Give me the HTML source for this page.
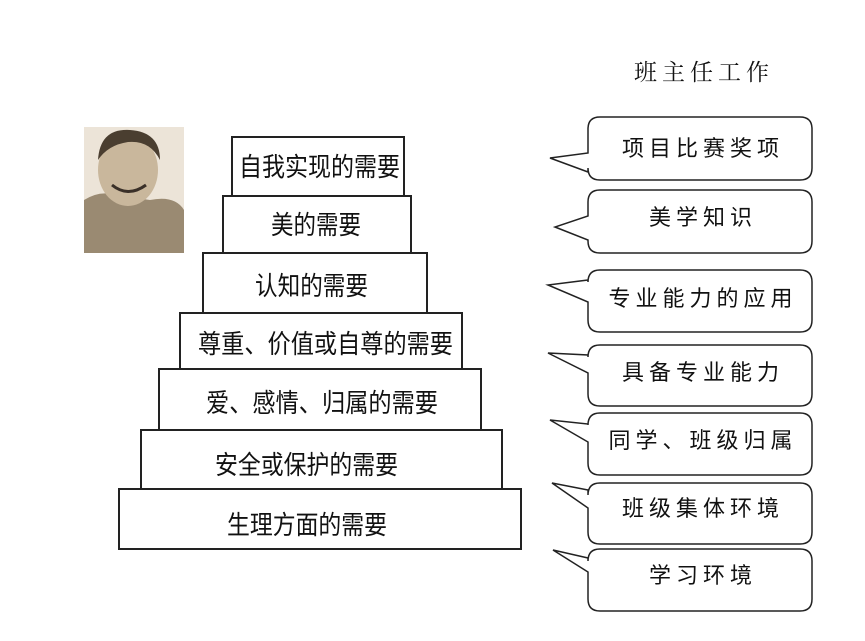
<!DOCTYPE html>
<html><head><meta charset="utf-8"><style>
body{margin:0;background:#fff;width:865px;height:636px;overflow:hidden}
svg text{font-family:"Liberation Sans","Noto Sans CJK SC",sans-serif}
.c{font-family:"Liberation Serif","Noto Serif CJK SC",serif;letter-spacing:5px}
</style></head><body>
<svg width="865" height="636" viewBox="0 0 865 636" xmlns="http://www.w3.org/2000/svg">
<rect x="84" y="127" width="100" height="126" fill="#ece4d8"/>
<path d="M84 200 Q100 190 115 195 L150 200 Q175 195 184 210 L184 253 L84 253Z" fill="#9a8a72"/>
<ellipse cx="128" cy="170" rx="30" ry="36" fill="#c9b79c"/>
<path d="M98 160 Q100 128 130 130 Q160 132 160 160 Q150 140 128 142 Q108 145 98 160Z" fill="#4a3e30"/>
<path d="M112 185 Q128 198 146 185" stroke="#3a3028" stroke-width="3" fill="none"/>
<g fill="#fff" stroke="#222" stroke-width="2">
<rect x="119" y="489" width="402" height="60"/>
<rect x="141" y="430" width="361" height="59"/>
<rect x="159" y="369" width="322" height="61"/>
<rect x="180" y="313" width="282" height="56"/>
<rect x="203" y="253" width="224" height="60"/>
<rect x="223" y="196" width="188" height="57"/>
<rect x="232" y="137" width="172" height="59"/>
</g>
<g font-size="26" fill="#111">
<text x="239" y="176" textLength="161" lengthAdjust="spacingAndGlyphs">自我实现的需要</text>
<text x="271" y="234" textLength="90" lengthAdjust="spacingAndGlyphs">美的需要</text>
<text x="255" y="295" textLength="113" lengthAdjust="spacingAndGlyphs">认知的需要</text>
<text x="198" y="353" textLength="255" lengthAdjust="spacingAndGlyphs">尊重、价值或自尊的需要</text>
<text x="206" y="412" textLength="232" lengthAdjust="spacingAndGlyphs">爱、感情、归属的需要</text>
<text x="215" y="474" textLength="183" lengthAdjust="spacingAndGlyphs">安全或保护的需要</text>
<text x="227" y="534" textLength="160" lengthAdjust="spacingAndGlyphs">生理方面的需要</text>
</g>
<text class="c" x="704" y="80" font-size="23" text-anchor="middle" fill="#111">班主任工作</text>
<g fill="#fff" stroke="#222" stroke-width="1.5">
<path d="M600 117 H800 Q812 117 812 129 V168 Q812 180 800 180 H600 Q588 180 588 168 V172 L550 158 L588 153 V129 Q588 117 600 117Z"/>
<path d="M600 190 H800 Q812 190 812 202 V241 Q812 253 800 253 H600 Q588 253 588 241 V240 L555 227 L588 216 V202 Q588 190 600 190Z"/>
<path d="M600 270 H800 Q812 270 812 282 V320 Q812 332 800 332 H600 Q588 332 588 320 V302 L548 285 L588 280 V282 Q588 270 600 270Z"/>
<path d="M600 345 H800 Q812 345 812 357 V394 Q812 406 800 406 H600 Q588 406 588 394 V373 L548 353 L588 355 V357 Q588 345 600 345Z"/>
<path d="M600 413 H800 Q812 413 812 425 V463 Q812 475 800 475 H600 Q588 475 588 463 V442 L550 420 L588 424 V425 Q588 413 600 413Z"/>
<path d="M600 483 H800 Q812 483 812 495 V532 Q812 544 800 544 H600 Q588 544 588 532 V508 L552 483 L588 490 V495 Q588 483 600 483Z"/>
<path d="M600 549 H800 Q812 549 812 561 V599 Q812 611 800 611 H600 Q588 611 588 599 V572 L553 550 L588 558 V561 Q588 549 600 549Z"/>
</g>
<g class="c" font-size="22" fill="#111" text-anchor="middle">
<text x="703" y="156">项目比赛奖项</text>
<text x="703" y="225">美学知识</text>
<text x="703" y="306">专业能力的应用</text>
<text x="703" y="380">具备专业能力</text>
<text x="703" y="448">同学、班级归属</text>
<text x="703" y="516">班级集体环境</text>
<text x="703" y="583">学习环境</text>
</g>
</svg>
</body></html>
